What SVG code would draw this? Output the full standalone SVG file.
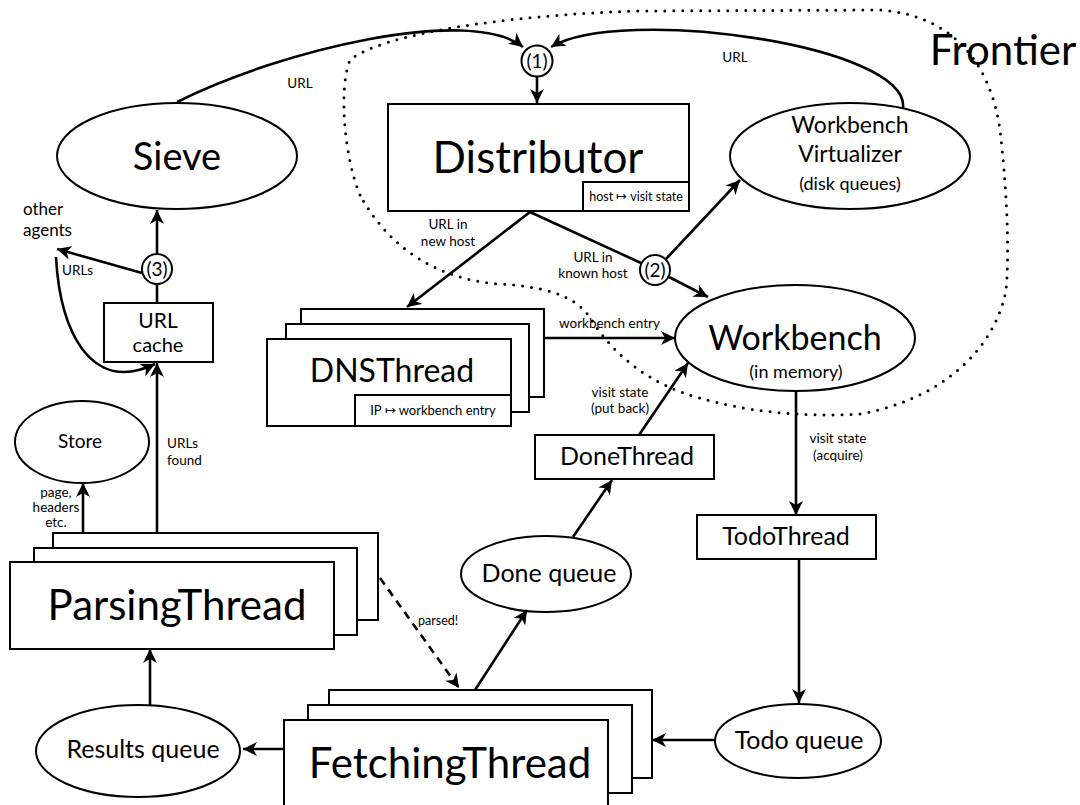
<svg xmlns="http://www.w3.org/2000/svg" width="1080" height="805" viewBox="0 0 1080 805">
<style>
text{font-family:Lato,"Open Sans","Liberation Sans",sans-serif;fill:#000}
.n{fill:#fff;stroke:#000;stroke-width:2}
.e{fill:none;stroke:#000;stroke-width:2.6}
.m{text-anchor:middle}
.s{font-size:13.5px}
</style>
<defs>
<marker id="ah" markerUnits="userSpaceOnUse" markerWidth="16" markerHeight="14" refX="14" refY="7" orient="auto">
<path d="M0,0 L14,7 L0,14 L4,7 Z" fill="#000"/>
</marker>
</defs>
<rect width="1080" height="805" fill="#fff"/>

<g id="frontier">
<path d="M360,195 C345,160 338,90 350,60 C380,35 500,15 640,11 L880,10 C950,15 990,60 1000,130 C1006,180 1010,250 1006,290 C995,350 940,400 860,414 C800,418 740,410 700,398 C650,385 615,355 595,325 C580,300 560,288 500,284 C440,280 390,250 360,195" fill="none" stroke="#000" stroke-width="3" stroke-dasharray="0 9" stroke-linecap="round"/>
<text x="1003" y="65" class="m" font-size="42">Frontier</text>
</g>

<g id="sieve"><ellipse class="n" cx="177" cy="156" rx="120" ry="53"/><text x="177" y="170" class="m" font-size="38">Sieve</text></g>
<g id="c1"><circle class="n" cx="537" cy="61" r="15.5"/><text x="537" y="68" class="m" font-size="19">(1)</text></g>
<g id="distributor"><rect class="n" x="388" y="104" width="301" height="107"/><text x="538" y="173" class="m" font-size="44">Distributor</text>
<rect class="n" x="583" y="182" width="106" height="29" stroke-width="1.5"/><text x="636" y="201" class="m" font-size="12.5">host ↦ visit state</text></g>
<g id="virtualizer"><ellipse class="n" cx="850" cy="156" rx="120" ry="53"/><text x="850" y="133" class="m" font-size="23">Workbench</text><text x="850" y="162" class="m" font-size="23">Virtualizer</text><text x="850" y="190" class="m" font-size="18">(disk queues)</text></g>
<g id="c2"><circle class="n" cx="655" cy="270" r="15"/><text x="655" y="277" class="m" font-size="19">(2)</text></g>
<g id="c3"><circle class="n" cx="157" cy="269" r="15"/><text x="157" y="276" class="m" font-size="19">(3)</text></g>
<g id="others"><text x="23" y="215" font-size="17">other</text><text x="23" y="236" font-size="17">agents</text></g>
<g id="urlcache"><rect class="n" x="104" y="303" width="109" height="59"/><text x="158" y="328" class="m" font-size="21">URL</text><text x="158" y="352" class="m" font-size="20">cache</text></g>
<g id="dnsthread">
<rect class="n" x="301" y="309" width="243" height="88"/>
<rect class="n" x="286" y="324" width="243" height="88"/>
<rect class="n" x="267" y="339" width="244" height="87"/>
<text x="392" y="382" class="m" font-size="32">DNSThread</text>
<rect class="n" x="355" y="395" width="156" height="31" stroke-width="1.5"/><text x="433" y="415" class="m" font-size="13">IP ↦ workbench entry</text></g>
<g id="workbench"><ellipse class="n" cx="795" cy="338" rx="120" ry="53"/><text x="795" y="350" class="m" font-size="34">Workbench</text><text x="796" y="378" class="m" font-size="18">(in memory)</text></g>
<g id="store"><ellipse class="n" cx="82" cy="442" rx="67" ry="41"/><text x="80" y="448" class="m" font-size="19">Store</text></g>
<g id="donethread"><rect class="n" x="535" y="435" width="179" height="44"/><text x="627" y="465" class="m" font-size="25">DoneThread</text></g>
<g id="todothread"><rect class="n" x="697" y="515" width="179" height="44"/><text x="786" y="545" class="m" font-size="25">TodoThread</text></g>
<g id="parsingthread">
<rect class="n" x="53" y="533" width="325" height="87"/>
<rect class="n" x="34" y="548" width="323" height="87"/>
<rect class="n" x="10" y="562" width="324" height="87"/>
<text x="177" y="620" class="m" font-size="42">ParsingThread</text></g>
<g id="donequeue"><ellipse class="n" cx="546" cy="574" rx="85" ry="38"/><text x="549" y="582" class="m" font-size="25">Done queue</text></g>
<g id="resultsqueue"><ellipse class="n" cx="138" cy="751" rx="102" ry="46"/><text x="143" y="758" class="m" font-size="25">Results queue</text></g>
<g id="fetchingthread">
<rect class="n" x="329" y="690" width="323" height="88"/>
<rect class="n" x="308" y="705" width="324" height="88"/>
<rect class="n" x="284" y="720" width="324" height="100"/>
<text x="450" y="778" class="m" font-size="42">FetchingThread</text></g>
<g id="todoqueue"><ellipse class="n" cx="798" cy="741" rx="83" ry="37"/><text x="799" y="749" class="m" font-size="25">Todo queue</text></g>

<g id="connectors">
<path class="e" d="M177,102 C280,50 470,5 523,47" marker-end="url(#ah)"/>
<path class="e" d="M903,108 C910,45 620,5 551,47" marker-end="url(#ah)"/>
<path class="e" d="M537,77 L537,103" marker-end="url(#ah)"/>
<path class="e" d="M530,212 L407,307" marker-end="url(#ah)"/>
<path class="e" d="M530,212 L641,263"/>
<path class="e" d="M669,277 L708,297" marker-end="url(#ah)"/>
<path class="e" d="M666,259 L740,180" marker-end="url(#ah)"/>
<path class="e" d="M544,338 L675,338" marker-end="url(#ah)"/>
<path class="e" d="M639,435 L688,363" marker-end="url(#ah)"/>
<path class="e" d="M796,391 L796,515" marker-end="url(#ah)"/>
<path class="e" d="M799,559 L799,703" marker-end="url(#ah)"/>
<path class="e" d="M715,740 L652,740" marker-end="url(#ah)"/>
<path class="e" d="M573,537 L612,480" marker-end="url(#ah)"/>
<path class="e" d="M475,690 L527,610" marker-end="url(#ah)"/>
<path class="e" d="M380,578 L459,688" stroke-dasharray="8 6" marker-end="url(#ah)"/>
<path class="e" d="M284,749 L243,749" marker-end="url(#ah)"/>
<path class="e" d="M150,705 L150,649" marker-end="url(#ah)"/>
<path class="e" d="M83,533 L83,483" marker-end="url(#ah)"/>
<path class="e" d="M157,533 L157,363" marker-end="url(#ah)"/>
<path class="e" d="M157,285 L157,303"/>
<path class="e" d="M157,253 L157,210" marker-end="url(#ah)"/>
<path class="e" d="M142,273 L57,249" marker-end="url(#ah)"/>
<path class="e" d="M56,257 C60,330 90,395 155,364" marker-end="url(#ah)"/>
</g>

<g id="labels">
<text x="300" y="88" class="m" font-size="13.5">URL</text>
<text x="735" y="62" class="m" font-size="13.5">URL</text>
<text x="448" y="229" class="m s">URL in</text>
<text x="448" y="246" class="m s">new host</text>
<text x="593" y="262" class="m s">URL in</text>
<text x="593" y="278" class="m s">known host</text>
<text x="62" y="275" class="s">URLs</text>
<text x="167" y="448" class="s">URLs</text>
<text x="167" y="465" class="s">found</text>
<text x="56" y="497" class="m s">page,</text>
<text x="56" y="512" class="m s">headers</text>
<text x="56" y="527" class="m s">etc.</text>
<text x="559" y="328" class="s">workbench entry</text>
<text x="620" y="397" class="m s">visit state</text>
<text x="620" y="413" class="m s">(put back)</text>
<text x="838" y="443" class="m s">visit state</text>
<text x="838" y="460" class="m s">(acquire)</text>
<text x="418" y="625" font-size="12.5">parsed!</text>
</g>
</svg>
